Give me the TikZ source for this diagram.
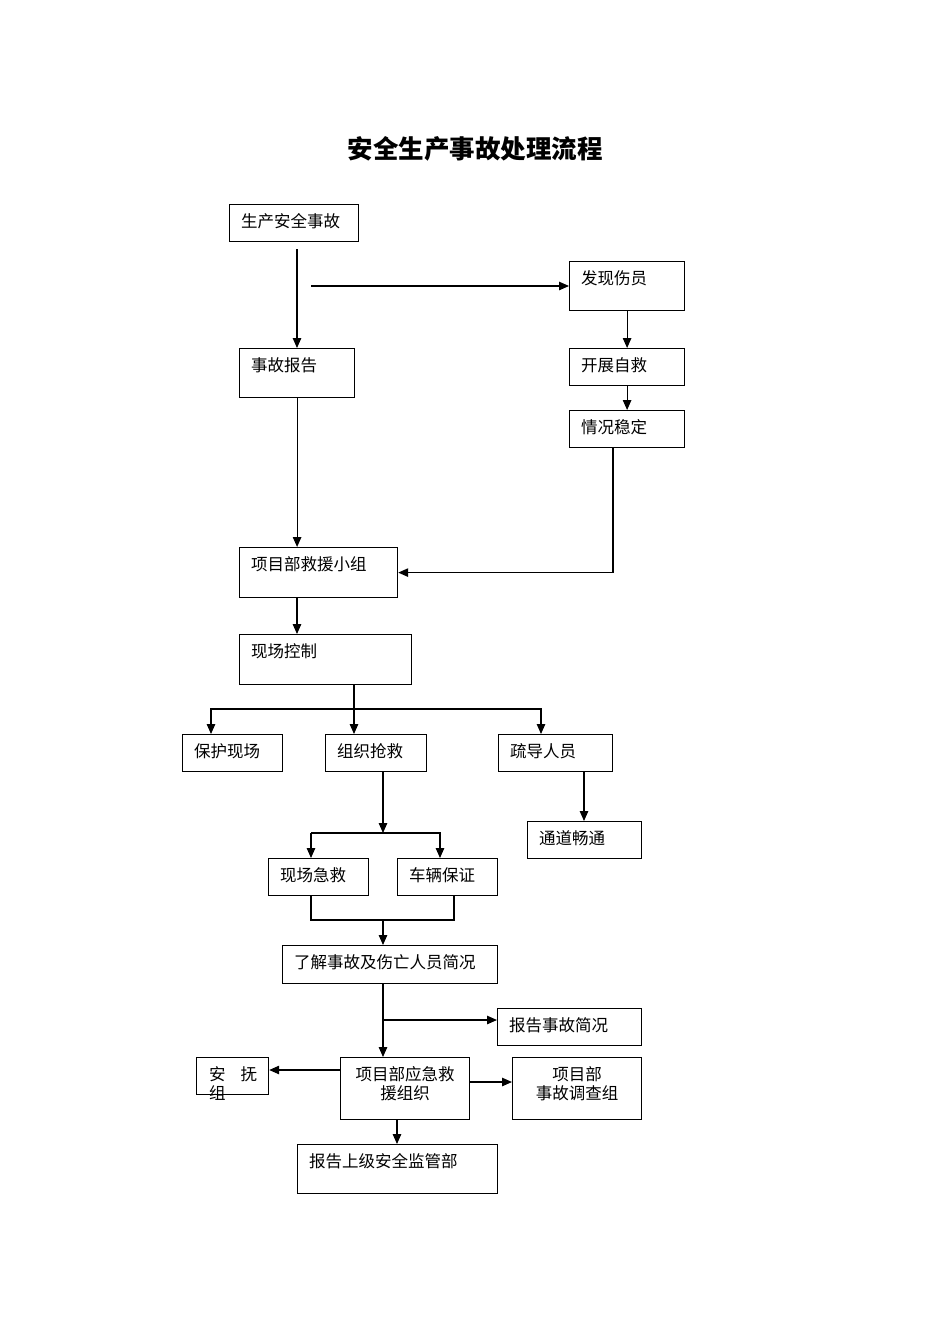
\documentclass[tikz,border=0pt]{standalone}
\usepackage{fontspec}
\setmainfont{Noto Sans CJK SC}
\usetikzlibrary{arrows.meta,calc}
\tikzset{
  box/.style={draw=black, line width=1.2pt, anchor=north west, inner sep=0pt},
  txt/.style={inner sep=0pt, font=\fontsize{16.5}{19}\selectfont},
  arr/.style={draw=black, line width=1.2pt, -{Triangle[length=10pt,width=8.5pt]}},
  ln/.style={draw=black, line width=1.2pt},
}
\newcommand\bx[6]{%
  \node[box, minimum width={(#4-#2)*1pt}, minimum height={(#5-#3)*1pt}] (#1) at (#2,#3) {};
  \node[txt, anchor=base west] (#1t) at (#2+12,#3+23) {#6};}
\begin{document}
\begin{tikzpicture}[x=1pt,y=-1pt]
\useasboundingbox (0,0) rectangle (950,1344);
\node[inner sep=0pt, anchor=base, font=\fontsize{25.5}{28}\selectfont\bfseries] (title) at (475,158) {安全生产事故处理流程};
\bx{n1}{229}{204}{358}{241}{生产安全事故}
\bx{n2}{569}{261}{684}{310}{发现伤员}
\bx{n3}{239}{348}{354}{397}{事故报告}
\bx{n4}{569}{348}{684}{385}{开展自救}
\bx{n5}{569}{410}{684}{447}{情况稳定}
\bx{n6}{239}{547}{397}{597}{项目部救援小组}
\bx{n7}{239}{634}{411}{684}{现场控制}
\bx{n8}{182}{734}{282}{771}{保护现场}
\bx{n9}{325}{734}{426}{771}{组织抢救}
\bx{n10}{498}{734}{612}{771}{疏导人员}
\bx{n11}{527}{821}{641}{858}{通道畅通}
\bx{n12}{268}{858}{368}{895}{现场急救}
\bx{n13}{397}{858}{497}{895}{车辆保证}
\bx{n14}{282}{945}{497}{983}{了解事故及伤亡人员简况}
\bx{n15}{497}{1008}{641}{1045}{报告事故简况}
\bx{n19}{297}{1144}{497}{1193}{报告上级安全监管部}
% two-line boxes (base anchor = baseline of the last line)
\node[box, minimum width=129pt, minimum height=62pt] (n16) at (340,1057) {};
\node[txt, anchor=base, align=center] (n16t) at (405,1099) {项目部应急救\\援组织};
\node[box, minimum width=129pt, minimum height=62pt] (n18) at (512,1057) {};
\node[txt, anchor=base, align=center] (n18t) at (577,1099) {项目部\\事故调查组};
\node[box, minimum width=72pt, minimum height=37pt] (n17) at (196,1057) {};
\node[txt, anchor=base west, align=left] (n17t) at (209,1099) {安\hspace{15pt}抚\\组};
% coordinates
\coordinate (c1) at (297,249);
\coordinate (c2) at (311,286);
\coordinate (c3) at (613,447);
\coordinate (c4) at (297,597);
\coordinate (s1) at (354,709);
\coordinate (j8) at (211,709);
\coordinate (j10) at (541,709);
\coordinate (c5) at (354,684);
\coordinate (c6) at (584,771);
\coordinate (c7) at (383,771);
\coordinate (s2) at (383,833);
\coordinate (j12) at (311,833);
\coordinate (j13) at (440,833);
\coordinate (b12) at (311,895);
\coordinate (b13) at (454,895);
\coordinate (s3) at (383,920);
\coordinate (c8) at (383,983);
\coordinate (s4) at (383,1020);
\coordinate (c9) at (340,1070);
\coordinate (c10) at (469,1082);
\coordinate (c11) at (397,1119);
% connectors
\draw[arr] (c1) -- (c1 |- n3.north);
\draw[arr] (c2) -- (c2 -| n2.west);
\draw[arr] (n2.south) -- (n4.north);
\draw[arr] (n4.south) -- (n5.north);
\draw[arr] (n3.south) -- (n3.south |- n6.north);
\draw[arr] (c3) |- (n6.east);
\draw[arr] (c4) -- (c4 |- n7.north);
\draw[arr] (c5) -- (c5 |- n9.north);
\draw[arr] (s1) -- (j8) -- (j8 |- n8.north);
\draw[arr] (s1) -- (j10) -- (j10 |- n10.north);
\draw[arr] (c6) -- (c6 |- n11.north);
\draw[arr] (c7) -- (s2);
\draw[arr] (j12) -- (j12 |- n12.north);
\draw[arr] (j12) -- (j13) -- (j13 |- n13.north);
\draw[ln] (b12) |- (s3) -| (b13);
\draw[arr] (s3) -- (s3 |- n14.north);
\draw[arr] (c8) -- (c8 |- n16.north);
\draw[arr] (s4) -- (s4 -| n15.west);
\draw[arr] (c9) -- (c9 -| n17.east);
\draw[arr] (c10) -- (c10 -| n18.west);
\draw[arr] (c11) -- (c11 |- n19.north);
\end{tikzpicture}
\end{document}
